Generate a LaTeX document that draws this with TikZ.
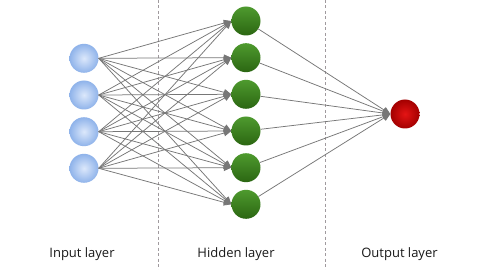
\documentclass[tikz,border=0pt]{standalone}
\usepackage{fontspec}
\setmainfont{Open Sans}
\usetikzlibrary{arrows.meta}
\definecolor{edgegray}{HTML}{777777}
\definecolor{inA}{HTML}{DCE8FB}
\definecolor{inB}{HTML}{8FB3EA}
\definecolor{hidA}{HTML}{4E9A2E}
\definecolor{hidB}{HTML}{2B6612}
\definecolor{outA}{HTML}{E41414}
\definecolor{outB}{HTML}{A30000}
\definecolor{sepgray}{HTML}{A09A9E}
\tikzset{
  neuron/.style={circle, minimum size=29pt, inner sep=0pt},
  innode/.style={neuron, inner color=inA, outer color=inB},
  hidnode/.style={neuron, top color=hidA, bottom color=hidB},
  outnode/.style={neuron, inner color=outA, outer color=outB},
  conn/.style={draw=edgegray, line width=0.75pt, -{Triangle[length=7.5pt,width=6.5pt]}},
  sep/.style={draw=sepgray, dash pattern=on 3pt off 2.5pt, line width=0.6pt},
  lbl/.style={font=\fontsize{13}{15}\selectfont, text=black!90}
}
\begin{document}
\begin{tikzpicture}[x=1pt,y=-1pt]
\useasboundingbox (0,0) rectangle (480,270);
\fill[white] (0,0) rectangle (480,270);
\coordinate (s1t) at (158,0); \coordinate (s1b) at (158,270);
\coordinate (s2t) at (325,0); \coordinate (s2b) at (325,270);
\draw[sep] (s1t) -- (s1b);
\draw[sep] (s2t) -- (s2b);
\foreach \i/\y in {1/58.3,2/95,3/131.7,4/168.3}
  \node[innode] (i\i) at (84,\y) {};
\foreach \j/\y in {1/21,2/57.7,3/94.3,4/131,5/167.7,6/204.3}
  \node[hidnode] (h\j) at (246,\y) {};
\node[outnode] (o) at (405,114) {};
\foreach \i in {1,...,4}
  \foreach \j in {1,...,6}
    \draw[conn] (i\i.east) -- (h\j.west);
\foreach \j in {1,...,6}
  \draw[conn] (h\j) -- (o.west);
\node[lbl] (l1) at (82,254) {Input layer};
\node[lbl] (l2) at (236,254) {Hidden layer};
\node[lbl] (l3) at (399.5,254) {Output layer};
\end{tikzpicture}
\end{document}
